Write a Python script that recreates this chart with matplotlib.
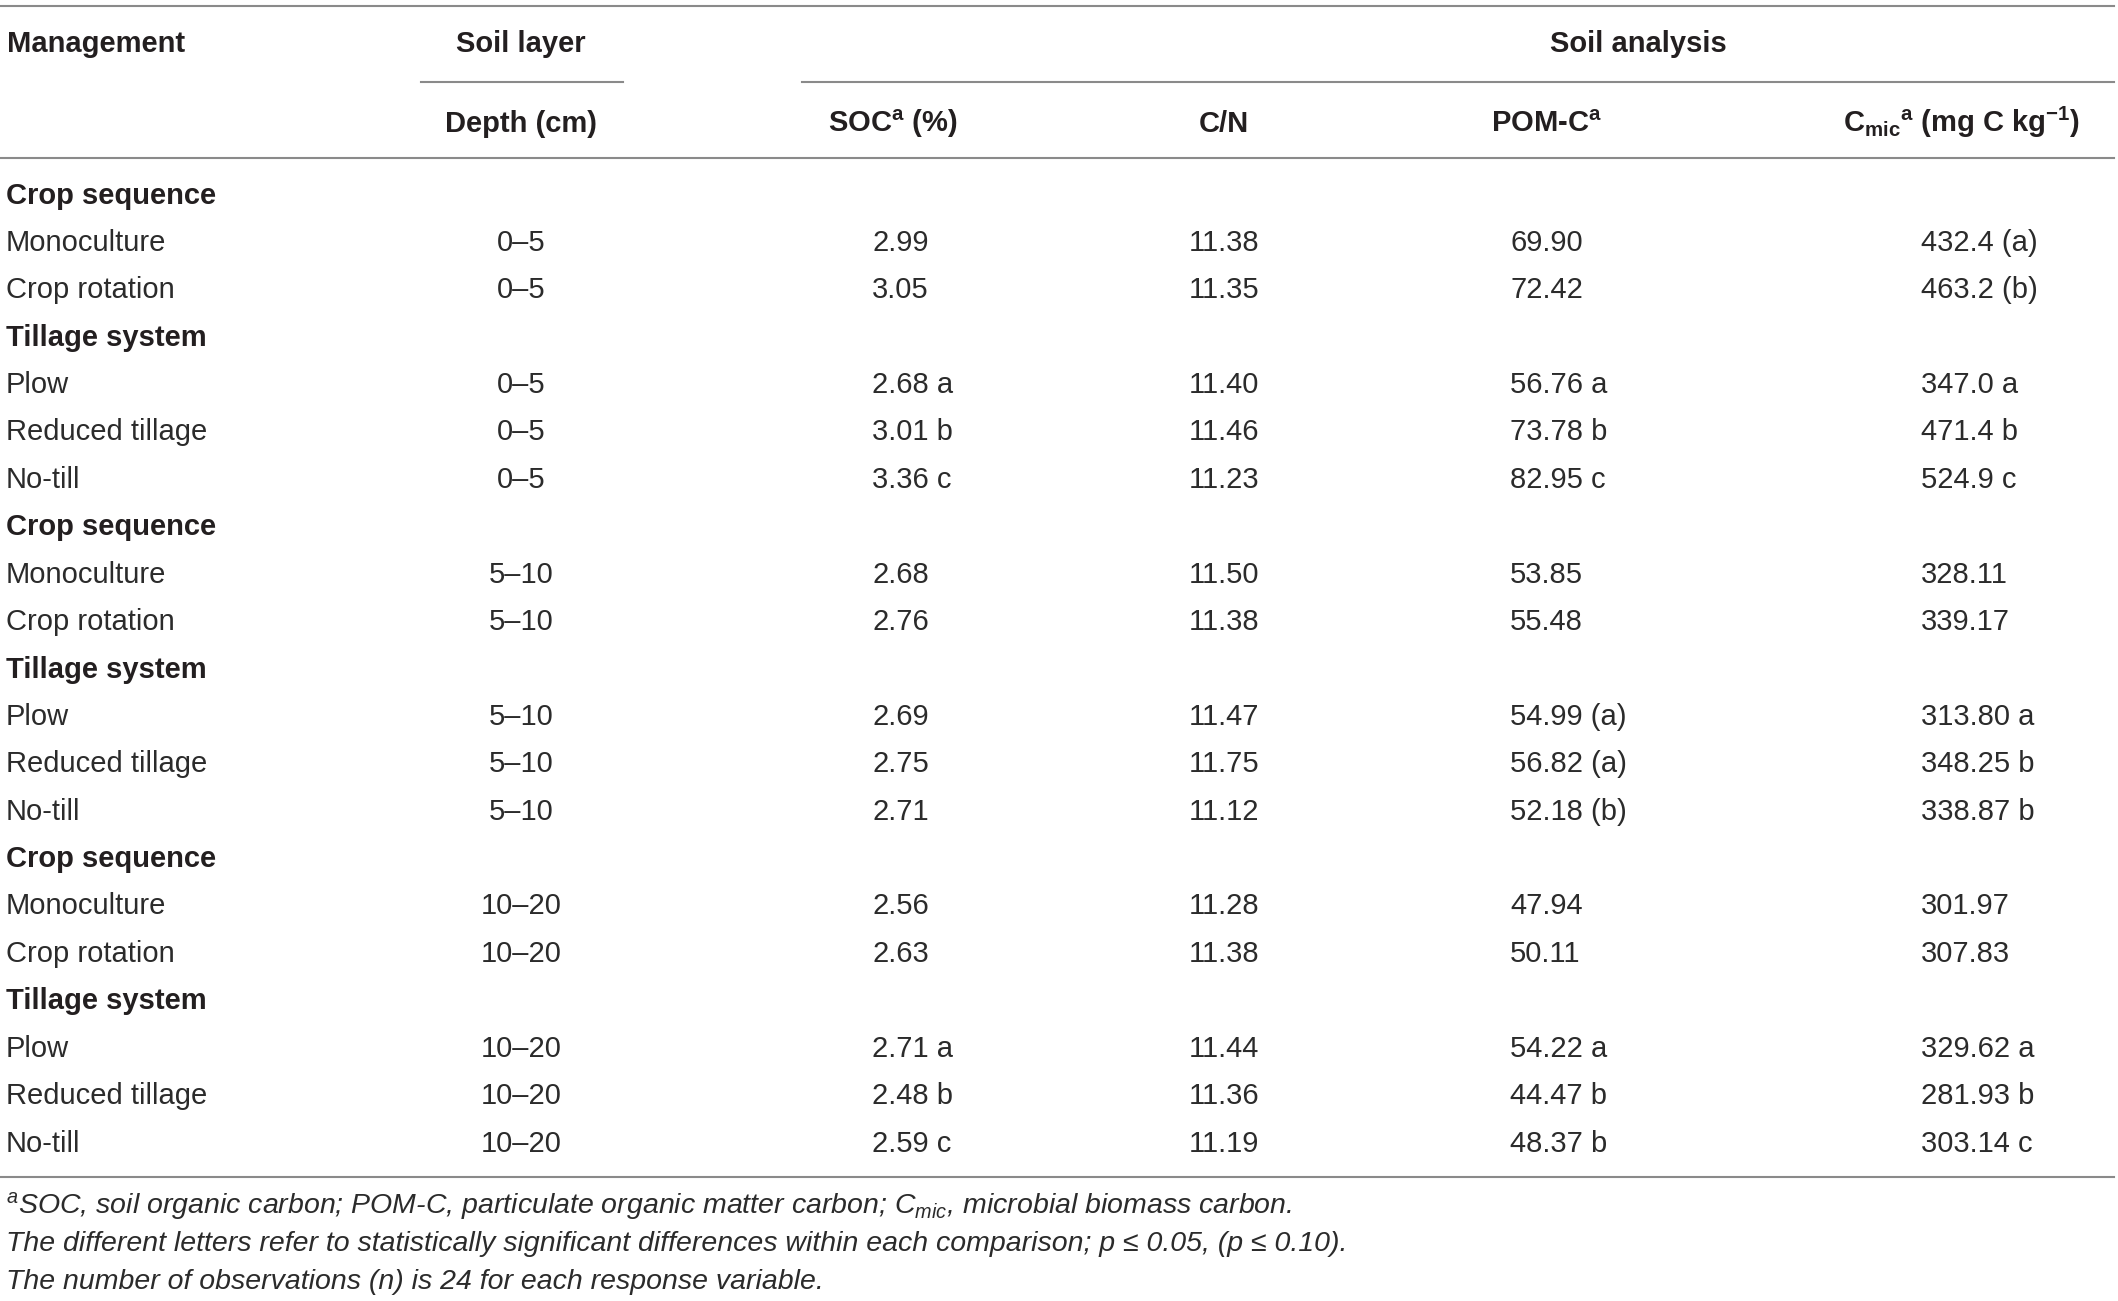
import matplotlib
matplotlib.use("Agg")
import matplotlib.pyplot as plt

plt.rcParams['font.family'] = ['Liberation Sans', 'DejaVu Sans']
plt.rcParams['mathtext.fontset'] = 'custom'
plt.rcParams['mathtext.rm'] = 'Liberation Sans'
plt.rcParams['mathtext.it'] = 'Liberation Sans:italic'
plt.rcParams['mathtext.bf'] = 'Liberation Sans:bold'

# ---------------- data ----------------
row_labels = ["Crop sequence", "Monoculture", "Crop rotation",
              "Tillage system", "Plow", "Reduced tillage", "No-till",
              "Crop sequence", "Monoculture", "Crop rotation",
              "Tillage system", "Plow", "Reduced tillage", "No-till",
              "Crop sequence", "Monoculture", "Crop rotation",
              "Tillage system", "Plow", "Reduced tillage", "No-till"]
row_is_group = [True, False, False, True, False, False, False,
                True, False, False, True, False, False, False,
                True, False, False, True, False, False, False]
depth = ["", "0–5", "0–5", "", "0–5", "0–5", "0–5",
         "", "5–10", "5–10", "", "5–10", "5–10", "5–10",
         "", "10–20", "10–20", "", "10–20", "10–20", "10–20"]
soc = ["", "2.99", "3.05", "", "2.68 a", "3.01 b", "3.36 c",
       "", "2.68", "2.76", "", "2.69", "2.75", "2.71",
       "", "2.56", "2.63", "", "2.71 a", "2.48 b", "2.59 c"]
cn = ["", "11.38", "11.35", "", "11.40", "11.46", "11.23",
      "", "11.50", "11.38", "", "11.47", "11.75", "11.12",
      "", "11.28", "11.38", "", "11.44", "11.36", "11.19"]
pomc = ["", "69.90", "72.42", "", "56.76 a", "73.78 b", "82.95 c",
        "", "53.85", "55.48", "", "54.99 (a)", "56.82 (a)", "52.18 (b)",
        "", "47.94", "50.11", "", "54.22 a", "44.47 b", "48.37 b"]
cmic = ["", "432.4 (a)", "463.2 (b)", "", "347.0 a", "471.4 b", "524.9 c",
        "", "328.11", "339.17", "", "313.80 a", "348.25 b", "338.87 b",
        "", "301.97", "307.83", "", "329.62 a", "281.93 b", "303.14 c"]

header_top = ["Management", "Soil layer", "Soil analysis"]
header_cols = ["Depth (cm)", r"SOC$^{\mathbf{a}}$ (%)", "C/N", r"POM-C$^{\mathbf{a}}$",
               r"C$_{\mathbf{mic}}$$^{\mathbf{a}}$ (mg C kg$^{\mathbf{-1}}$)"]
footnotes = [r"$^{a}$SOC, soil organic carbon; POM-C, particulate organic matter carbon; C$_{\mathregular{mic}}$, microbial biomass carbon.",
             "The different letters refer to statistically significant differences within each comparison; p ≤ 0.05, (p ≤ 0.10).",
             "The number of observations (n) is 24 for each response variable."]

# ---------------- layout ----------------
W, H = 2118, 1301
fig = plt.figure(figsize=(W / 100, H / 100), dpi=100)
ax = fig.add_axes([0, 0, 1, 1])
ax.set_xlim(0, W)
ax.set_ylim(H, 0)
ax.axis('off')

txt = '#231f20'
reg = '#2b2b2b'
line_c = '#8a8a8a'
fs = 21
lw = 1.5

# rules
ax.plot([0, 2114], [6, 6], color=line_c, lw=lw)
ax.plot([421, 623], [82, 82], color=line_c, lw=lw)
ax.plot([802, 2114], [82, 82], color=line_c, lw=lw)
ax.plot([0, 2114], [158, 158], color=line_c, lw=lw)
ax.plot([0, 2114], [1177, 1177], color=line_c, lw=lw)

cap_off = 10.5  # baseline offset from visual center

# header row 1
y1 = 41 + cap_off
ax.text(7, y1, header_top[0], fontsize=fs, fontweight='bold', color=txt, ha='left', va='baseline')
ax.text(521, y1, header_top[1], fontsize=fs, fontweight='bold', color=txt, ha='center', va='baseline')
ax.text(1638, y1, header_top[2], fontsize=fs, fontweight='bold', color=txt, ha='center', va='baseline')

# header row 2
y2 = 122 + cap_off
col_centers = [521, 893, 1224, 1546, 1961]
for cx, lab in zip(col_centers, header_cols):
    ax.text(cx, y2, lab, fontsize=fs, fontweight='bold', color=txt, ha='center', va='baseline')

# body
y0 = 193
dy = 47.4
x_soc, x_cn, x_pom, x_cmic = 872, 1224, 1510, 1921
for i, lab in enumerate(row_labels):
    yb = y0 + i * dy + cap_off
    if row_is_group[i]:
        ax.text(6, yb, lab, fontsize=fs, fontweight='bold', color=txt, ha='left', va='baseline')
        continue
    ax.text(6, yb, lab, fontsize=fs, color=reg, ha='left', va='baseline')
    ax.text(521, yb, depth[i], fontsize=fs, color=reg, ha='center', va='baseline')
    ax.text(x_soc, yb, soc[i], fontsize=fs, color=reg, ha='left', va='baseline')
    ax.text(x_cn, yb, cn[i], fontsize=fs, color=reg, ha='center', va='baseline')
    ax.text(x_pom, yb, pomc[i], fontsize=fs, color=reg, ha='left', va='baseline')
    ax.text(x_cmic, yb, cmic[i], fontsize=fs, color=reg, ha='left', va='baseline')

# footnotes
fy = [1203, 1241, 1279]
for yy, t in zip(fy, footnotes):
    ax.text(6, yy + 10, t, fontsize=20.5, fontstyle='italic', color=reg, ha='left', va='baseline')

fig.savefig("out.png", dpi=100)
